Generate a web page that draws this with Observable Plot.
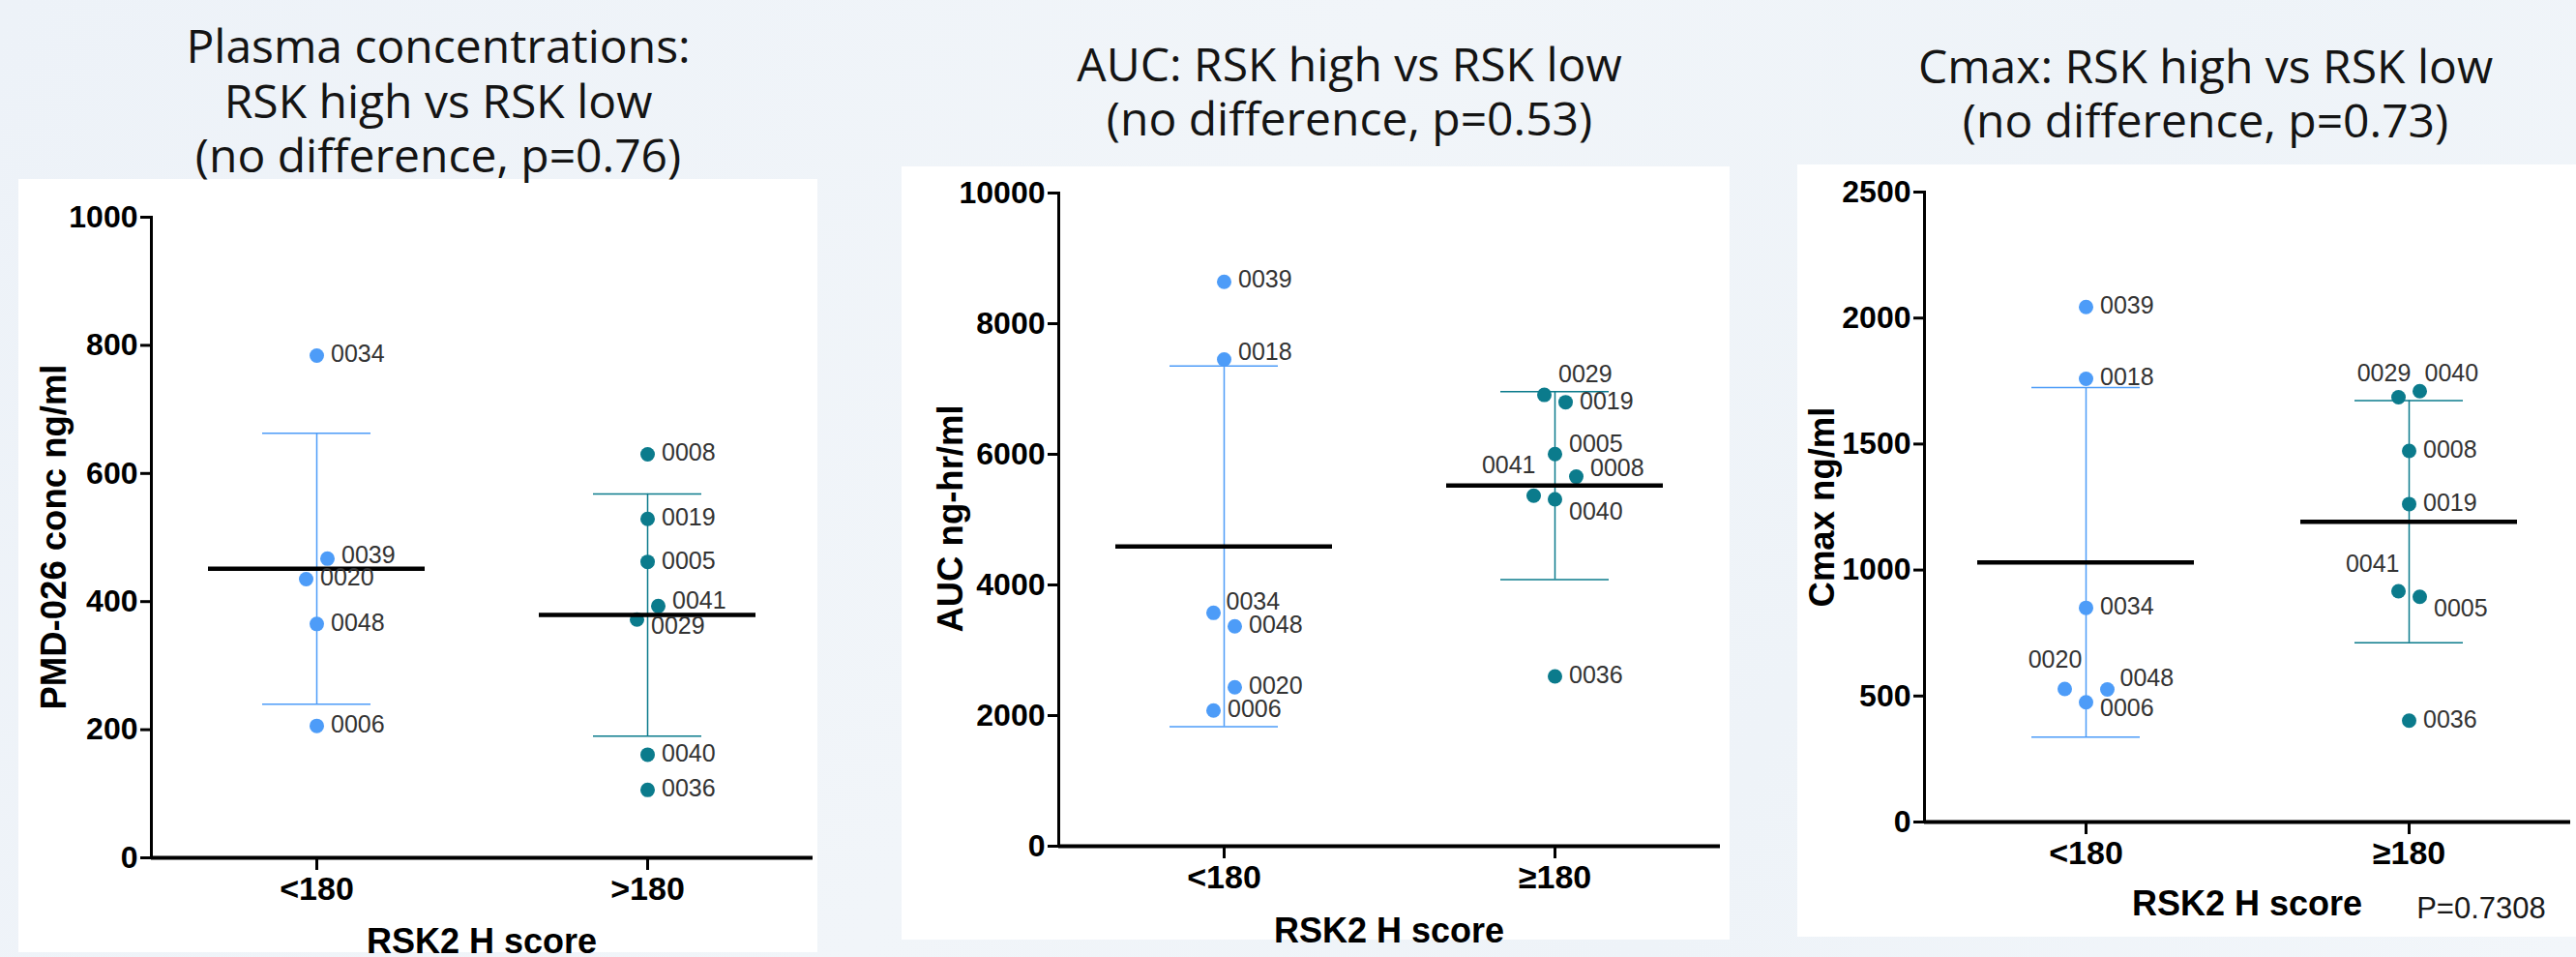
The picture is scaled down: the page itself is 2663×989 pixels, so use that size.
<!DOCTYPE html>
<html>
<head>
<meta charset="utf-8">
<script src="https://cdn.jsdelivr.net/npm/d3@7"></script>
<script src="https://cdn.jsdelivr.net/npm/@observablehq/plot@0.6"></script>
<style>
  html, body { margin: 0; padding: 0; }
  body {
    width: 2663px; height: 989px; overflow: hidden; position: relative;
    background: linear-gradient(120deg, #edf2f8 0%, #f1f5f9 45%, #eef3f8 70%, #f2f6fa 100%);
  }
  .panel { position: absolute; }
  .title {
    position: absolute; transform: translate(-50%, -50%);
    font-family: "Open Sans", sans-serif; font-size: 48px; line-height: 48px;
    color: #141414; text-align: center; white-space: nowrap;
  }
  .ylab {
    position: absolute; transform: translate(-50%, -50%) rotate(-90deg);
    font-family: "Liberation Sans", Arial, sans-serif; font-weight: bold; font-size: 36.5px;
    line-height: 1; white-space: nowrap; color: #000;
  }
  .xlab {
    position: absolute; transform: translate(-50%, -50%);
    font-family: "Liberation Sans Narrow", "Arial Narrow", "Liberation Sans", sans-serif;
    font-weight: bold; font-size: 36px; line-height: 1; white-space: nowrap; color: #000;
  }
  .pval {
    position: absolute; transform: translate(-50%, -50%);
    font-family: "Liberation Sans Narrow", "Arial Narrow", "Liberation Sans", sans-serif;
    font-size: 31px; line-height: 1; white-space: nowrap; color: #1a1a1a;
  }
</style>
</head>
<body>
<script>
// ---------------- DATA ----------------
// Panel 1: Plasma concentrations (PMD-026 conc ng/ml)
const plasmaGroups = ["<180", ">180"];
const plasmaLowIds = ["0034", "0039", "0020", "0048", "0006"];
const plasmaLowValues = [784, 467, 435, 365, 206];
const plasmaLowSlots = [0, 1, -1, 0, 0];
const plasmaHighIds = ["0008", "0019", "0005", "0041", "0029", "0040", "0036"];
const plasmaHighValues = [630, 529, 462, 393, 372, 161, 106];
const plasmaHighSlots = [0, 0, 0, 1, -1, 0, 0];
const plasmaTicks = [0, 200, 400, 600, 800, 1000];

// Panel 2: AUC ng-hr/ml
const aucGroups = ["<180", "≥180"];
const aucLowIds = ["0039", "0018", "0034", "0048", "0020", "0006"];
const aucLowValues = [8640, 7452, 3573, 3367, 2433, 2077];
const aucLowSlots = [0, 0, -1, 1, 1, -1];
const aucHighIds = ["0029", "0019", "0005", "0008", "0041", "0040", "0036"];
const aucHighValues = [6910, 6798, 6003, 5658, 5367, 5311, 2601];
const aucHighSlots = [-1, 1, 0, 2, -2, 0, 0];
const aucTicks = [0, 2000, 4000, 6000, 8000, 10000];

// Panel 3: Cmax ng/ml
const cmaxGroups = ["<180", "≥180"];
const cmaxLowIds = ["0039", "0018", "0034", "0020", "0048", "0006"];
const cmaxLowValues = [2044, 1759, 850, 528, 526, 475];
const cmaxLowSlots = [0, 0, 0, -2, 2, 0];
const cmaxHighIds = ["0029", "0040", "0008", "0019", "0041", "0005", "0036"];
const cmaxHighValues = [1686, 1710, 1473, 1262, 916, 894, 402];
const cmaxHighSlots = [-1, 1, 0, 0, -1, 1, 0];
const cmaxTicks = [0, 500, 1000, 1500, 2000, 2500];

const titles = [
  ["Plasma concentrations:", "RSK high vs RSK low", "(no difference, p=0.76)"],
  ["AUC: RSK high vs RSK low", "(no difference, p=0.53)"],
  ["Cmax: RSK high vs RSK low", "(no difference, p=0.73)"]
];
const yLabels = ["PMD-026 conc ng/ml", "AUC ng-hr/ml", "Cmax ng/ml"];
const xLabel = "RSK2 H score";
const pText = "P=0.7308";

// ---------------- STYLE / LAYOUT ----------------
const colorLow = "#4d9cf8";
const colorHigh = "#0b7b8c";
const NARROW = "'Liberation Sans Narrow', 'Arial Narrow', 'Liberation Sans', sans-serif";
const SLOT_PX = 11;

// label placement tweaks: [dx, dy, anchor] relative to dot centre
const defaultPlace = [14.5, -1, "start"];
const places = [
  { "0039": [14.5, -3, "start"], "0041": [14.5, -5, "start"], "0029": [14.5, 7, "start"], "0020": [14.5, -2, "start"] },
  { "0039": [14.5, -2, "start"], "0018": [14.5, -7, "start"], "0034": [13, -11, "start"], "0029": [14.5, -21, "start"],
    "0005": [14.5, -10, "start"], "0008": [14.5, -9, "start"], "0041": [2, -31.5, "end"], "0040": [14.5, 13, "start"] },
  { "0020": [-10, -30, "middle"], "0048": [13, -12, "start"], "0006": [14.5, 6, "start"], "0029": [-15, -24, "middle"],
    "0040": [5, -18, "start"], "0041": [1, -28, "end"], "0005": [14.5, 12, "start"] }
];

function rowsOf(groups, lowIds, lowVals, lowSlots, highIds, highVals, highSlots) {
  const low = lowIds.map((id, i) => ({ group: groups[0], id, value: lowVals[i], slot: lowSlots[i], color: colorLow }));
  const high = highIds.map((id, i) => ({ group: groups[1], id, value: highVals[i], slot: highSlots[i], color: colorHigh }));
  return { low, high };
}

function makePanel(cfg) {
  const { groups, low, high, ticks, width, height, ml, mr, mt, mb, place } = cfg;
  const rows = [...low, ...high];
  const stats = [low, high].map((arr, i) => {
    const vs = arr.map(d => d.value);
    const m = d3.mean(vs), s = d3.deviation(vs);
    return { group: groups[i], mean: m, lo: m - s, hi: m + s, color: i ? colorHigh : colorLow };
  });
  const step = (width - ml - mr) / groups.length;
  const meanInset = (step - 224) / 2;
  const capInset = (step - 112) / 2;
  const marks = [];
  marks.push(Plot.frame({ anchor: "left", stroke: "black", strokeWidth: 3 }));
  marks.push(Plot.ruleY([0], { stroke: "black", strokeWidth: 4 }));
  for (const s of stats) {
    marks.push(Plot.ruleX([s], { x: "group", y1: "lo", y2: "hi", stroke: s.color, strokeWidth: 1.5 }));
    marks.push(Plot.tickY([s], { x: "group", y: "lo", stroke: s.color, strokeWidth: 1.5, insetLeft: capInset, insetRight: capInset }));
    marks.push(Plot.tickY([s], { x: "group", y: "hi", stroke: s.color, strokeWidth: 1.5, insetLeft: capInset, insetRight: capInset }));
  }
  for (const d of rows) {
    marks.push(Plot.dot([d], { x: "group", y: "value", r: 7.5, fill: d.color, stroke: "none", dx: d.slot * SLOT_PX }));
  }
  marks.push(Plot.tickY(stats, { x: "group", y: "mean", stroke: "black", strokeWidth: 4.5, insetLeft: meanInset, insetRight: meanInset }));
  for (const d of rows) {
    const p = place[d.id] || defaultPlace;
    marks.push(Plot.text([d], {
      x: "group", y: "value", text: "id",
      dx: d.slot * SLOT_PX + p[0], dy: p[1], textAnchor: p[2],
      fontSize: 25, fontFamily: NARROW, fill: "#333"
    }));
  }
  marks.push(Plot.axisY({ ticks, tickFormat: d3.format("d"), tickSize: 11, tickPadding: 3, fontSize: 32, fontWeight: "bold",
    fontFamily: NARROW, stroke: "black", strokeWidth: 3, fill: "black", label: null }));
  marks.push(Plot.axisX({ tickSize: 13, tickPadding: 6, fontSize: 34, fontWeight: "bold", fontFamily: NARROW,
    stroke: "black", strokeWidth: 3, fill: "black", label: null }));
  return Plot.plot({
    width, height,
    marginLeft: ml, marginRight: mr, marginTop: mt, marginBottom: mb,
    x: { type: "band", domain: groups, padding: 0 },
    y: { domain: [0, ticks[ticks.length - 1]] },
    style: { background: "white", overflow: "visible", color: "black" },
    marks
  });
}

const panels = [
  { data: rowsOf(plasmaGroups, plasmaLowIds, plasmaLowValues, plasmaLowSlots, plasmaHighIds, plasmaHighValues, plasmaHighSlots),
    groups: plasmaGroups, ticks: plasmaTicks, left: 19, top: 185, width: 826, height: 799, ml: 137, mr: 5, mt: 39, mb: 98,
    titleX: 453, titleY: 46, ylabX: 55.5, ylabY: 554.5, xlabX: 498, xlabY: 972.5 },
  { data: rowsOf(aucGroups, aucLowIds, aucLowValues, aucLowSlots, aucHighIds, aucHighValues, aucHighSlots),
    groups: aucGroups, ticks: aucTicks, left: 932, top: 172, width: 856, height: 799, ml: 162, mr: 10, mt: 27, mb: 97,
    titleX: 1395, titleY: 64.5, ylabX: 983, ylabY: 536, xlabX: 1436, xlabY: 961.5 },
  { data: rowsOf(cmaxGroups, cmaxLowIds, cmaxLowValues, cmaxLowSlots, cmaxHighIds, cmaxHighValues, cmaxHighSlots),
    groups: cmaxGroups, ticks: cmaxTicks, left: 1858, top: 170, width: 805, height: 798, ml: 131, mr: 6, mt: 28, mb: 119,
    titleX: 2280, titleY: 66.5, ylabX: 1884, ylabY: 523.5, xlabX: 2323, xlabY: 933.5 }
];

const TITLE_STEP = 56.5;

panels.forEach((p, i) => {
  const svg = makePanel({ groups: p.groups, low: p.data.low, high: p.data.high, ticks: p.ticks,
    width: p.width, height: p.height, ml: p.ml, mr: p.mr, mt: p.mt, mb: p.mb, place: places[i] });
  const wrap = document.createElement("div");
  wrap.className = "panel";
  wrap.style.left = p.left + "px";
  wrap.style.top = p.top + "px";
  wrap.appendChild(svg);
  document.body.appendChild(wrap);

  titles[i].forEach((line, k) => {
    const t = document.createElement("div");
    t.className = "title";
    t.style.left = p.titleX + "px";
    t.style.top = (p.titleY + k * TITLE_STEP + 1) + "px";
    t.textContent = line;
    document.body.appendChild(t);
  });

  const yl = document.createElement("div");
  yl.className = "ylab";
  yl.style.left = p.ylabX + "px";
  yl.style.top = p.ylabY + "px";
  yl.textContent = yLabels[i];
  document.body.appendChild(yl);

  const xl = document.createElement("div");
  xl.className = "xlab";
  xl.style.left = p.xlabX + "px";
  xl.style.top = p.xlabY + "px";
  xl.textContent = xLabel;
  document.body.appendChild(xl);
});

const pv = document.createElement("div");
pv.className = "pval";
pv.style.left = "2565px";
pv.style.top = "938px";
pv.textContent = pText;
document.body.appendChild(pv);
</script>
</body>
</html>
